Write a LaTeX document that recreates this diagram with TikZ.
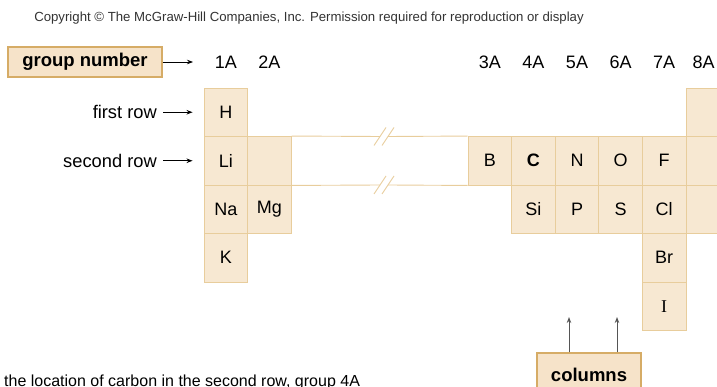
\documentclass[tikz,border=0pt]{standalone}
\usepackage{fontspec}
\setmainfont{Liberation Sans}
\newfontfamily\iserif{Liberation Serif}
\usetikzlibrary{arrows.meta}
\definecolor{cellfill}{HTML}{F7E8D2}
\definecolor{cellline}{HTML}{E8CD9C}
\definecolor{boxline}{HTML}{D6AC66}
\definecolor{boxfill}{HTML}{F6E3C9}
\definecolor{arrowgray}{HTML}{555555}
\begin{document}
\begin{tikzpicture}[x=1pt,y=-1pt,
  cell/.style={draw=cellline, fill=cellfill, line width=0.9pt, minimum width=43.6pt,
    minimum height=48.5pt, inner sep=0pt, font=\fontsize{18}{20}\selectfont},
  grp/.style={font=\fontsize{18}{20}\selectfont, inner sep=0pt, anchor=base},
  rowlbl/.style={font=\fontsize{18.3}{20}\selectfont, inner sep=0pt, anchor=east},
  keybox/.style={draw=boxline, fill=boxfill, line width=1.2pt, inner sep=0pt,
    font=\fontsize{18.5}{20}\selectfont\bfseries},
  arr/.style={-{Stealth[length=6pt,width=4.5pt]}, line width=0.8pt, black},
  garr/.style={-{Stealth[length=6pt,width=4.5pt]}, line width=1pt, arrowgray},
  brk/.style={draw=cellline, line width=0.9pt}
]
\useasboundingbox (0,0) rectangle (717,387);

% copyright line
\node[font=\fontsize{13.2}{14}\selectfont, text=black!80, inner sep=0pt] (copy) at (309,18)
  {Copyright \textcopyright{} The McGraw-Hill Companies, Inc. Permission required for reproduction or display};

% group number key
\node[keybox, minimum width=154pt, minimum height=30pt] (gn) at (85,62) {group number};

% group labels
\node[grp] (g1) at (225.8,68.5) {1A};
\node[grp] (g2) at (269.4,68.5) {2A};
\node[grp] (g3) at (489.8,68.5) {3A};
\node[grp] (g4) at (533.4,68.5) {4A};
\node[grp] (g5) at (577.0,68.5) {5A};
\node[grp] (g6) at (620.6,68.5) {6A};
\node[grp] (g7) at (664.2,68.5) {7A};
\node[grp] (g8) at (703.5,68.5) {8A};
\coordinate (gt) at (193,62);
\draw[arr] (gn.east) -- (gt);

% row labels
\node[rowlbl] (fr) at (157,112.25) {first row};
\node[rowlbl] (sr) at (157,160.75) {second row};

% break lines
\coordinate (u1) at (380,136.5);
\coordinate (u2) at (388,136.5);
\coordinate (l1) at (380,185);
\coordinate (l2) at (388,185);

% cells
\node[cell] (H)  at (225.8,112.25) {H};
\node[cell] (He) at (707.8,112.25) {};
\node[cell] (Li) at (225.8,160.75) {Li};
\node[cell] (Be) at (269.4,160.75) {};
\node[cell] (B)  at (489.8,160.75) {B};
\node[cell] (C)  at (533.4,160.75) {\bfseries C};
\node[cell] (N)  at (577.0,160.75) {N};
\node[cell] (O)  at (620.6,160.75) {O};
\node[cell] (F)  at (664.2,160.75) {F};
\node[cell] (Ne) at (707.8,160.75) {};
\node[cell] (Na) at (225.8,209.25) {Na};
\node[cell] (Mg) at (269.4,209.25) {Mg};
\node[cell] (Si) at (533.4,209.25) {Si};
\node[cell] (P)  at (577.0,209.25) {P};
\node[cell] (S)  at (620.6,209.25) {S};
\node[cell] (Cl) at (664.2,209.25) {Cl};
\node[cell] (Ar) at (707.8,209.25) {};
\node[cell] (K)  at (225.8,257.75) {K};
\node[cell] (Br) at (664.2,257.75) {Br};
\node[cell] (I)  at (664.2,306.25) {\iserif I};

\draw[brk] (Be.north east) -- (u1);
\draw[brk] (u2) -- (B.north west);
\draw[brk] (Be.south east) -- (l1);
\draw[brk] (l2) -- (B.south west);
\draw[brk] (u1) ++(-6,9) -- ++(12,-18);
\draw[brk] (u2) ++(-6,9) -- ++(12,-18);
\draw[brk] (l1) ++(-6,9) -- ++(12,-18);
\draw[brk] (l2) ++(-6,9) -- ++(12,-18);

\draw[arr] (fr.east) -- (H.west) [shorten <=6pt, shorten >=11pt];
\draw[arr] (sr.east) -- (Li.west) [shorten <=6pt, shorten >=11pt];

% columns key
\node[keybox, minimum width=104pt, minimum height=44pt] (cols) at (589,375) {columns};
\coordinate (ca) at (569,317);
\coordinate (cb) at (617,317);
\draw[garr] (cols.north -| ca) -- (ca);
\draw[garr] (cols.north -| cb) -- (cb);

% caption
\node[font=\fontsize{16}{18}\selectfont, inner sep=0pt, anchor=base west] (cap) at (4,386.5)
  {the location of carbon in the second row, group 4A};
\end{tikzpicture}
\end{document}
